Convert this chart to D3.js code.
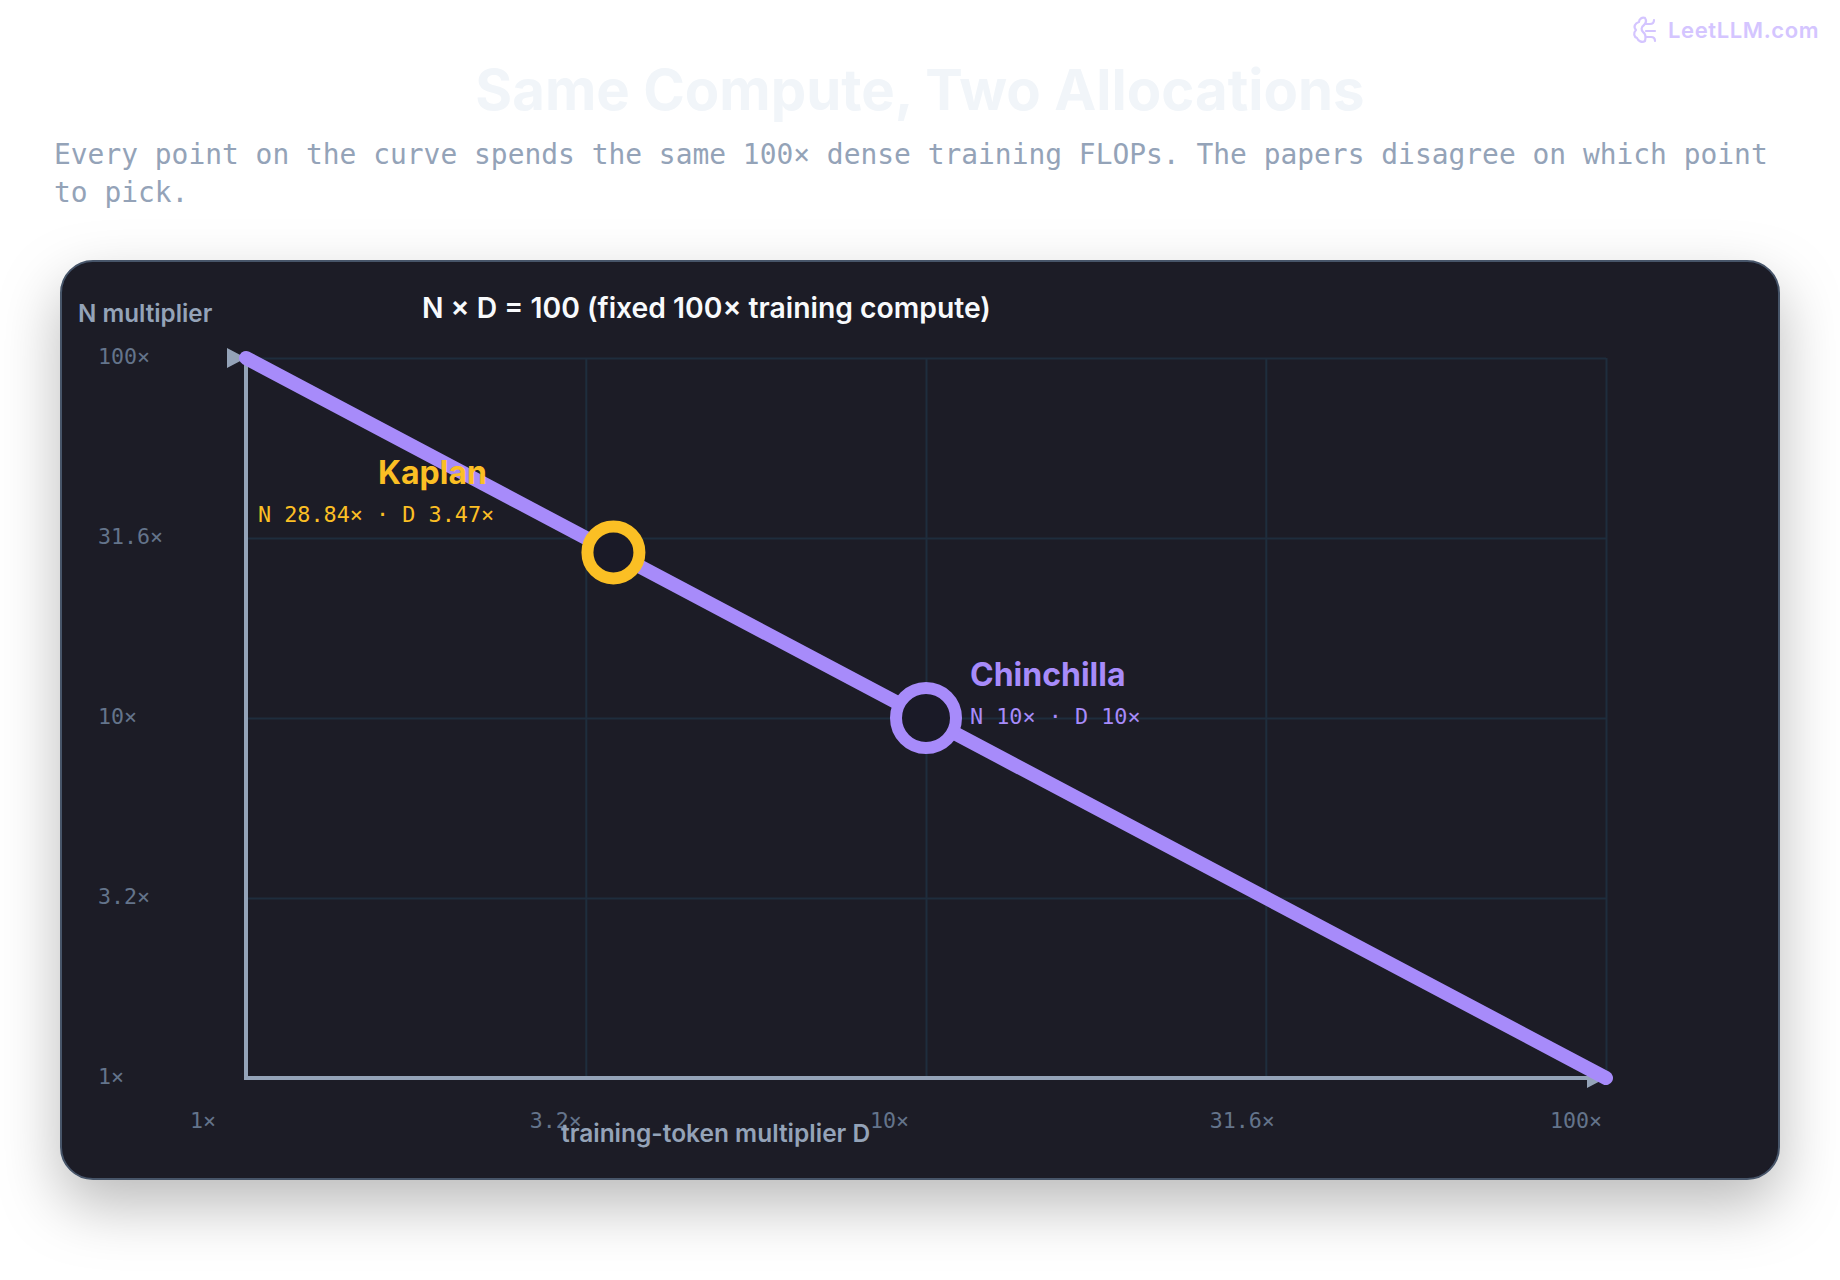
<!DOCTYPE html>
<html><head><meta charset="utf-8">
<script src="https://cdn.jsdelivr.net/npm/d3@7/dist/d3.min.js"></script>
<style>html,body{margin:0;padding:0;background:#fff}svg{display:block}
.ui{font-family:Inter,sans-serif}.mono{font-family:"DejaVu Sans Mono",monospace}</style></head>
<body><svg id="c" width="1840" height="1280"></svg>
<script>
const tickValues=[1,3.16,10,31.6,100];
const tickLabels=["1×","3.2×","10×","31.6×","100×"];
const curveD=[1,100];
const curveN=[100,1];
const pointNames=["Kaplan","Chinchilla"];
const pointN=[28.84,10];
const pointD=[3.47,10];
const pointSubs=["N 28.84× · D 3.47×","N 10× · D 10×"];
const pointColors=["#fbbf24","#a78bfa"];
const subtitleLines=["Every point on the curve spends the same 100× dense training FLOPs. The papers disagree on which point","to pick."];

const svg=d3.select("#c");
const defs=svg.append("defs");
const f=defs.append("filter").attr("id","sh").attr("x","-10%").attr("y","-15%").attr("width","120%").attr("height","135%");
f.append("feDropShadow").attr("dx",0).attr("dy",25).attr("stdDeviation",30).attr("flood-color","#000").attr("flood-opacity",.27);

const x=d3.scaleLog().domain([1,100]).range([246,1606]);
const y=d3.scaleLog().domain([1,100]).range([1078,358]);

svg.append("text").attr("class","ui").attr("x",920).attr("y",110).attr("text-anchor","middle")
 .attr("font-size",56.3).attr("font-weight",700).attr("fill","#f1f5f9").text("Same Compute, Two Allocations");
svg.selectAll(".sub").data(subtitleLines).join("text").attr("class","mono sub")
 .attr("x",54).attr("y",(d,i)=>164+i*38).attr("font-size",27.92).attr("fill","#94a3b8").text(d=>d);

// watermark
const wm=svg.append("g").attr("fill","none").attr("stroke","#d4c5ff").attr("stroke-width",2.2).attr("stroke-linecap","round").attr("stroke-linejoin","round");
wm.append("path").attr("d","M1645 18c-3-1-6 1-6 4c-4 1-6 5-3 8c-3 3-2 7 1 8c1 3 5 5 8 3M1645 18c2 3 1 5-1 7c-3 2-3 5-1 7c3 2 3 5 2 9M1646 24h4c2 0 4-1 4-4M1646 31h9M1647 37h4c2 0 4 1 4 4");
svg.append("text").attr("class","ui").attr("x",1668).attr("y",38).attr("font-size",22).attr("font-weight",600)
 .attr("letter-spacing",0.6).attr("fill","#d4c5ff").text("LeetLLM.com");

// card
svg.append("rect").attr("x",61).attr("y",261).attr("width",1718).attr("height",918).attr("rx",32)
 .attr("fill","#1a1a27").attr("stroke","#475569").attr("stroke-width",2).attr("filter","url(#sh)");

// grid
const gx=svg.append("g").attr("transform","translate(0,1078)").call(d3.axisBottom(x).tickValues(tickValues).tickSize(-720).tickFormat(""));
const gy=svg.append("g").attr("transform","translate(246,0)").call(d3.axisLeft(y).tickValues(tickValues).tickSize(-1360).tickFormat(""));
[gx,gy].forEach(g=>{g.select(".domain").remove();g.selectAll(".tick line").attr("stroke","#1e2d3d").attr("stroke-width",2);});

// tick labels
svg.selectAll(".xl").data(tickValues).join("text").attr("class","mono xl").attr("x",d=>x(d)-56).attr("y",1128)
 .attr("font-size",21.6).attr("fill","#64748b").text((d,i)=>tickLabels[i]);
svg.selectAll(".yl").data(tickValues).join("text").attr("class","mono yl").attr("x",98).attr("y",d=>y(d)+6)
 .attr("font-size",21.6).attr("fill","#64748b").text((d,i)=>tickLabels[i]);

// axes
const ax=svg.append("g");
ax.append("line").attr("x1",x(1)).attr("x2",x(100)-10).attr("y1",y(1)).attr("y2",y(1));
ax.append("line").attr("x1",x(1)).attr("x2",x(1)).attr("y1",y(1)+2).attr("y2",y(100));
ax.selectAll("line").attr("stroke","#94a3b8").attr("stroke-width",4);
const tri=d3.path();
[[x(1),y(100)],[x(100),y(1)]].forEach(([a,b])=>{tri.moveTo(a-19,b-10);tri.lineTo(a,b);tri.lineTo(a-19,b+10);tri.closePath();});
ax.append("path").attr("d",tri.toString()).attr("fill","#94a3b8");

// curve
const pts=curveD.map((d,i)=>[x(d),y(curveN[i])]);
svg.append("path").attr("d",d3.line()(pts)).attr("fill","none").attr("stroke","#a78bfa").attr("stroke-width",14).attr("stroke-linecap","round");

// points
const rs=[26,30],ws=[12,12];
svg.selectAll(".pt").data(pointNames).join("circle").attr("class","pt")
 .attr("cx",(d,i)=>x(pointD[i])).attr("cy",(d,i)=>y(pointN[i])).attr("r",(d,i)=>rs[i])
 .attr("fill","#1a1a27").attr("stroke",(d,i)=>pointColors[i]).attr("stroke-width",(d,i)=>ws[i]);

// texts
svg.append("text").attr("class","ui").attr("x",78).attr("y",322).attr("font-size",24.2).attr("font-weight",600).attr("fill","#94a3b8").text("N multiplier");
svg.append("text").attr("class","ui").attr("x",422).attr("y",318).attr("font-size",28.3).attr("font-weight",600).attr("fill","#f8fafc").text("N × D = 100 (fixed 100× training compute)");
svg.append("text").attr("class","ui").attr("x",561).attr("y",1142).attr("font-size",24.5).attr("font-weight",600).attr("fill","#94a3b8").text("training-token multiplier D");
const nx=[378,970],ny=[484,686],sx=[258,970],sy=[522,724];
svg.selectAll(".nm").data(pointNames).join("text").attr("class","ui nm").attr("x",(d,i)=>nx[i]).attr("y",(d,i)=>ny[i])
 .attr("font-size",32).attr("font-weight",700).attr("fill",(d,i)=>pointColors[i]).text(d=>d);
svg.selectAll(".ps").data(pointSubs).join("text").attr("class","mono ps").attr("x",(d,i)=>sx[i]).attr("y",(d,i)=>sy[i])
 .attr("font-size",21.8).attr("fill",(d,i)=>pointColors[i]).text(d=>d);
</script></body></html>
